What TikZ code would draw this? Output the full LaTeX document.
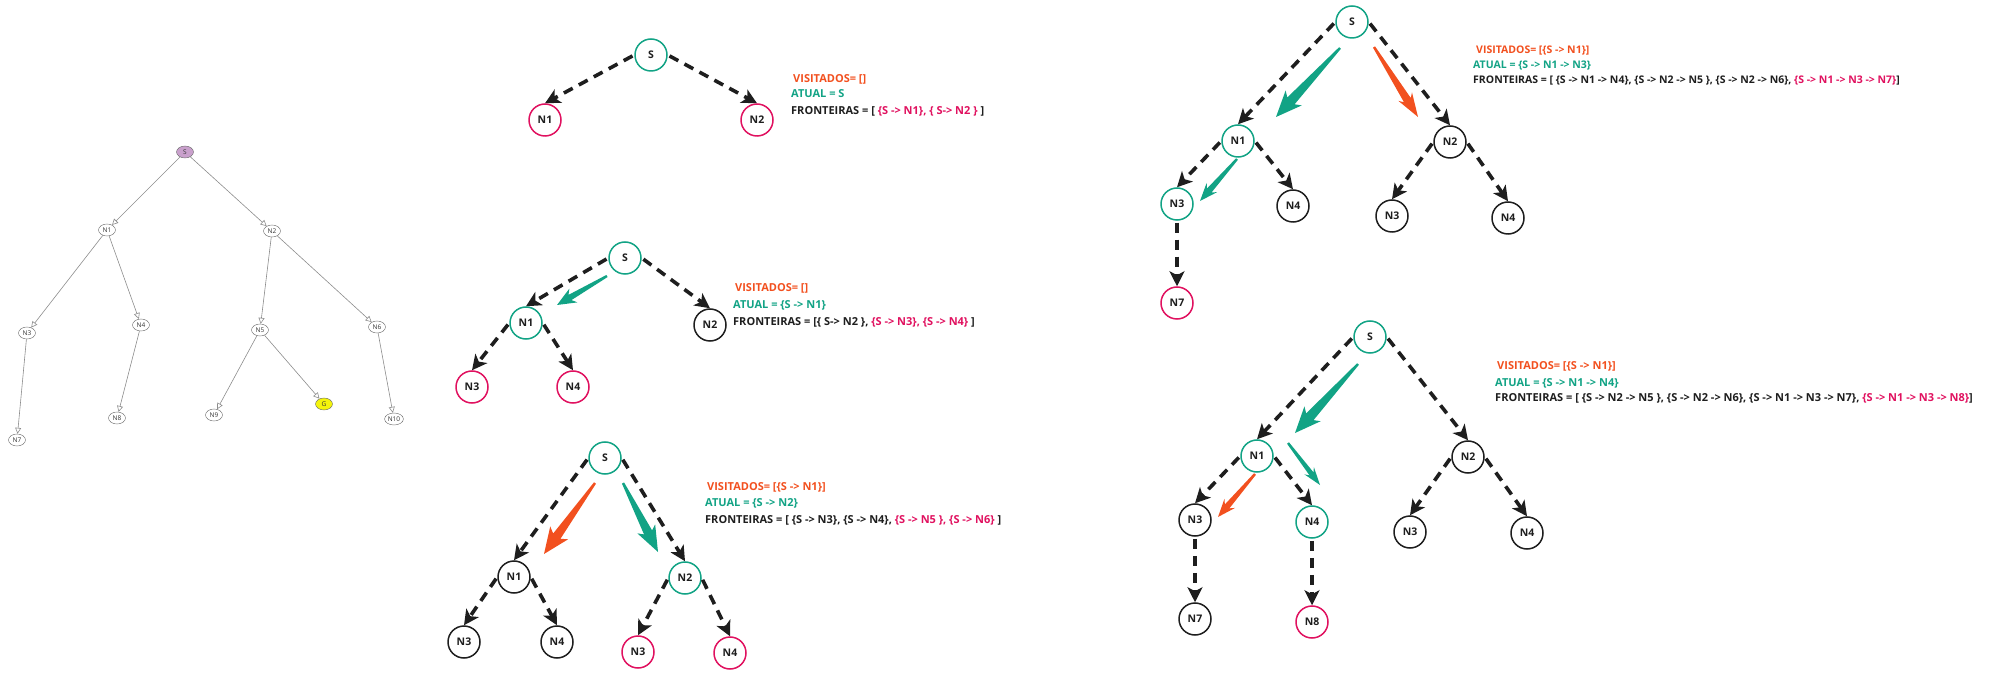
\documentclass[tikz,border=0pt]{standalone}
\usepackage{fontspec}
\setmainfont{Open Sans}
\usetikzlibrary{
    arrows.meta,
    calc,
    positioning,
    shapes.geometric
}
\definecolor{visred}{HTML}{F2501F}
\definecolor{atualgreen}{HTML}{12A385}
\definecolor{frontpink}{HTML}{E0115F}
\definecolor{txtblack}{HTML}{1E1E1E}
\definecolor{lgray}{HTML}{8C8C8C}
\definecolor{slilac}{HTML}{C9A0CC}
\definecolor{gyellow}{HTML}{F4F40C}

% tapered arrow: colour, from, to, head length, head half width, body half width
\newcommand{\fatarrow}[6]{%
    \coordinate (fah) at ($(#3)!#4!(#2)$);
    \coordinate (fab) at ($(#3)!#4+4pt!(#2)$);
    \fill[#1] ($(#2)!1.2pt!90:(#3)$) -- ($(fah)!#6!90:(#3)$) -- ($(fab)!#5!90:(#3)$) -- (#3)
        -- ($(fab)!#5!-90:(#3)$) -- ($(fah)!#6!-90:(#3)$) -- ($(#2)!1.2pt!-90:(#3)$) -- cycle;
}

\begin{document}
\begin{tikzpicture}[x=1pt, y=-1pt,
    blob/.style={circle, draw, line width=1.5pt, minimum size=32pt, inner sep=0pt,
        font=\bfseries\fontsize{10.5}{12}\selectfont, text=txtblack},
    gnode/.style={blob, draw=atualgreen},
    pnode/.style={blob, draw=frontpink},
    bnode/.style={blob, draw=txtblack},
    dasharrow/.style={draw=txtblack, line width=3.6pt, dash pattern=on 10pt off 7pt,
        shorten <=2pt, -{Stealth[length=15pt, width=15pt, inset=4pt]}},
    lnode/.style={ellipse, draw=black!60, fill=white, inner sep=0.5pt, minimum width=17pt,
        minimum height=12pt, font=\fontsize{6.5}{7}\selectfont, text=black!80},
    ledge/.style={draw=lgray, line width=0.6pt, -{Triangle[open, length=6pt, width=6pt]}},
    infotext/.style={anchor=base west, inner sep=0pt, font=\bfseries\fontsize{11}{13}\selectfont},
    smalltext/.style={infotext, font=\bfseries\fontsize{10.5}{12}\selectfont}
]
\useasboundingbox (0,0) rectangle (2000,684);

% search tree
\node[lnode, fill=slilac] (ls) at (185, 152) {S};
\node[lnode] (ln1) at (107, 230) {N1};
\node[lnode] (ln2) at (272, 231) {N2};
\node[lnode] (ln3) at (27, 333) {N3};
\node[lnode] (ln4) at (141, 325) {N4};
\node[lnode] (ln5) at (260, 330) {N5};
\node[lnode] (ln6) at (377, 327) {N6};
\node[lnode] (ln7) at (17, 440) {N7};
\node[lnode] (ln8) at (117, 418) {N8};
\node[lnode] (ln9) at (214, 415) {N9};
\node[lnode, fill=gyellow] (lg) at (324, 404) {G};
\node[lnode] (ln10) at (394, 419) {N10};

\draw[ledge] (ls) -- (ln1);
\draw[ledge] (ls) -- (ln2);
\draw[ledge] (ln1) -- (ln3);
\draw[ledge] (ln1) -- (ln4);
\draw[ledge] (ln2) -- (ln5);
\draw[ledge] (ln2) -- (ln6);
\draw[ledge] (ln3) -- (ln7);
\draw[ledge] (ln4) -- (ln8);
\draw[ledge] (ln5) -- (ln9);
\draw[ledge] (ln5) -- (lg);
\draw[ledge] (ln6) -- (ln10);

% step 1
\node[gnode] (t1s) at (651, 55) {S};
\node[pnode] (t1n1) at (545, 120) {N1};
\node[pnode] (t1n2) at (757, 120) {N2};

\draw[dasharrow] (t1s.west) -- (t1n1.north);
\draw[dasharrow] (t1s.east) -- (t1n2.north);

\node[infotext, text=visred] (t1vis) at (793, 82.3) {VISITADOS= []};
\node[infotext, text=atualgreen] (t1atual) at (791, 98) {ATUAL = S};
\node[infotext, text=txtblack] (t1front) at (791, 114.7)
    {FRONTEIRAS = [ \textcolor{frontpink}{\{S -> N1\}, \{ S-> N2 \}} ]};

% step 2
\node[gnode] (t2s) at (625, 258) {S};
\node[gnode] (t2n1) at (526, 323) {N1};
\node[bnode] (t2n2) at (710, 325) {N2};
\node[pnode] (t2n3) at (472, 387) {N3};
\node[pnode] (t2n4) at (573, 387) {N4};

\draw[dasharrow] (t2s.west) -- (t2n1.north);
\draw[dasharrow] (t2s.east) -- (t2n2.north);
\draw[dasharrow] (t2n1.west) -- (t2n3.north);
\draw[dasharrow] (t2n1.east) -- (t2n4.north);

\coordinate (t2a) at (607, 276);
\coordinate (t2b) at (557, 305);
\fatarrow{atualgreen}{t2a}{t2b}{15pt}{8pt}{3pt}

\node[infotext, text=visred] (t2vis) at (735, 292) {VISITADOS= []};
\node[infotext, text=atualgreen] (t2atual) at (733, 309) {ATUAL = \{S -> N1\}};
\node[infotext, text=txtblack] (t2front) at (733, 326)
    {FRONTEIRAS = [\{ S-> N2 \}, \textcolor{frontpink}{\{S -> N3\}, \{S -> N4\}} ]};

% step 3
\node[gnode] (t3s) at (605, 458) {S};
\node[bnode] (t3n1) at (514, 577) {N1};
\node[gnode] (t3n2) at (685, 578) {N2};
\node[bnode] (t3n3) at (464, 642) {N3};
\node[bnode] (t3n4) at (557, 642) {N4};
\node[pnode] (t3n3r) at (638, 652) {N3};
\node[pnode] (t3n4r) at (730, 653) {N4};

\draw[dasharrow] (t3s.west) -- (t3n1.north);
\draw[dasharrow] (t3s.east) -- (t3n2.north);
\draw[dasharrow] (t3n1.west) -- (t3n3.north);
\draw[dasharrow] (t3n1.east) -- (t3n4.north);
\draw[dasharrow] (t3n2.west) -- (t3n3r.north);
\draw[dasharrow] (t3n2.east) -- (t3n4r.north);

\coordinate (t3a) at (595, 483);
\coordinate (t3b) at (544, 554);
\coordinate (t3c) at (623, 483);
\coordinate (t3d) at (658, 552);
\fatarrow{visred}{t3a}{t3b}{22pt}{11pt}{4.5pt}
\fatarrow{atualgreen}{t3c}{t3d}{22pt}{10pt}{4.5pt}

\node[infotext, text=visred] (t3vis) at (707, 490) {VISITADOS= [\{S -> N1\}]};
\node[infotext, text=atualgreen] (t3atual) at (705, 506) {ATUAL = \{S -> N2\}};
\node[infotext, text=txtblack] (t3front) at (705, 523)
    {FRONTEIRAS = [ \{S -> N3\}, \{S -> N4\}, \textcolor{frontpink}{\{S -> N5 \}, \{S -> N6\}} ]};

% step 4
\node[gnode] (t4s) at (1352, 22) {S};
\node[gnode] (t4n1) at (1238, 141) {N1};
\node[bnode] (t4n2) at (1450, 142) {N2};
\node[gnode] (t4n3) at (1177, 204) {N3};
\node[bnode] (t4n4) at (1293, 206) {N4};
\node[bnode] (t4n3r) at (1392, 216) {N3};
\node[bnode] (t4n4r) at (1508, 218) {N4};
\node[pnode] (t4n7) at (1177, 303) {N7};

\draw[dasharrow] (t4s.west) -- (t4n1.north);
\draw[dasharrow] (t4s.east) -- (t4n2.north);
\draw[dasharrow] (t4n1.west) -- (t4n3.north);
\draw[dasharrow] (t4n1.east) -- (t4n4.north);
\draw[dasharrow] (t4n2.west) -- (t4n3r.north);
\draw[dasharrow] (t4n2.east) -- (t4n4r.north);
\draw[dasharrow] (t4n3.south) -- (t4n7.north);

\coordinate (t4a) at (1340, 48);
\coordinate (t4b) at (1276, 117);
\coordinate (t4c) at (1374, 47);
\coordinate (t4d) at (1418, 117);
\coordinate (t4e) at (1237, 159);
\coordinate (t4f) at (1200, 201);
\fatarrow{atualgreen}{t4a}{t4b}{22pt}{11pt}{5pt}
\fatarrow{visred}{t4c}{t4d}{20pt}{8pt}{4pt}
\fatarrow{atualgreen}{t4e}{t4f}{14pt}{7pt}{3pt}

\node[smalltext, text=visred] (t4vis) at (1476, 54) {VISITADOS= [\{S -> N1\}]};
\node[smalltext, text=atualgreen] (t4atual) at (1473, 68.5) {ATUAL = \{S -> N1 -> N3\}};
\node[smalltext, text=txtblack] (t4front) at (1473, 83.3)
    {FRONTEIRAS = [ \{S -> N1 -> N4\}, \{S -> N2 -> N5 \}, \{S -> N2 -> N6\}, \textcolor{frontpink}{\{S -> N1 -> N3 -> N7\}}]};

% step 5
\node[gnode] (t5s) at (1370, 337) {S};
\node[gnode] (t5n1) at (1257, 456) {N1};
\node[bnode] (t5n2) at (1468, 457) {N2};
\node[bnode] (t5n3) at (1195, 520) {N3};
\node[gnode] (t5n4) at (1312, 522) {N4};
\node[bnode] (t5n3r) at (1410, 532) {N3};
\node[bnode] (t5n4r) at (1527, 533) {N4};
\node[bnode] (t5n7) at (1195, 619) {N7};
\node[pnode] (t5n8) at (1312, 622) {N8};

\draw[dasharrow] (t5s.west) -- (t5n1.north);
\draw[dasharrow] (t5s.east) -- (t5n2.north);
\draw[dasharrow] (t5n1.west) -- (t5n3.north);
\draw[dasharrow] (t5n1.east) -- (t5n4.north);
\draw[dasharrow] (t5n2.west) -- (t5n3r.north);
\draw[dasharrow] (t5n2.east) -- (t5n4r.north);
\draw[dasharrow] (t5n3.south) -- (t5n7.north);
\draw[dasharrow] (t5n4.south) -- (t5n8.north);

\coordinate (t5a) at (1358, 364);
\coordinate (t5b) at (1295, 433);
\coordinate (t5c) at (1288, 443);
\coordinate (t5d) at (1320, 485);
\coordinate (t5e) at (1255, 474);
\coordinate (t5f) at (1218, 517);
\fatarrow{atualgreen}{t5a}{t5b}{22pt}{11pt}{5pt}
\fatarrow{atualgreen}{t5c}{t5d}{14pt}{6pt}{2.5pt}
\fatarrow{visred}{t5e}{t5f}{14pt}{7pt}{3pt}

\node[infotext, text=visred] (t5vis) at (1497, 370) {VISITADOS= [\{S -> N1\}]};
\node[infotext, text=atualgreen] (t5atual) at (1495, 386.3) {ATUAL = \{S -> N1 -> N4\}};
\node[infotext, text=txtblack] (t5front) at (1495, 401.7)
    {FRONTEIRAS = [ \{S -> N2 -> N5 \}, \{S -> N2 -> N6\}, \{S -> N1 -> N3 -> N7\}, \textcolor{frontpink}{\{S -> N1 -> N3 -> N8\}}]};
\end{tikzpicture}
\end{document}
